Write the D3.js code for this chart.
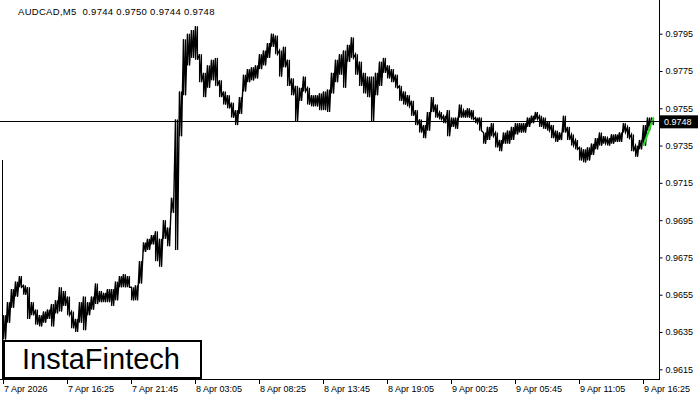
<!DOCTYPE html>
<html>
<head>
<meta charset="utf-8">
<style>
body { margin: 0; background: #fff; }
svg { display: block; font-family: "Liberation Sans", Arial, sans-serif; }
.axis text { font-size: 9px; fill: #000; }
</style>
</head>
<body>
<svg width="700" height="400"></svg>
<script src="https://d3js.org/d3.v7.min.js"></script>
<script>

// 20-minute buckets (4 M5 bars each), high and low
var hi = [
  0.9644,0.9651,0.9658,0.9662,0.9665,0.9660,0.9659,0.9651,0.9647,0.9644,
  0.9646,0.9647,0.9650,0.9652,0.9659,0.9657,0.9654,0.9646,0.9642,0.9651,
  0.9654,0.9651,0.9654,0.9661,0.9657,0.9656,0.9658,0.9658,0.9662,0.9665,
  0.9666,0.9665,0.9659,0.9660,0.9673,0.9683,0.9685,0.9687,0.9689,0.9685,
  0.9695,0.9691,0.9707,0.9749,0.9764,0.9792,0.9795,0.9797,0.9799,0.9784,
  0.9774,0.9778,0.9781,0.9782,0.9770,0.9764,0.9762,0.9758,0.9754,0.9761,
  0.9773,0.9776,0.9777,0.9778,0.9784,0.9786,0.9790,0.9795,0.9794,0.9786,
  0.9788,0.9781,0.9771,0.9767,0.9766,0.9772,0.9766,0.9762,0.9762,0.9763,
  0.9764,0.9765,0.9774,0.9781,0.9784,0.9786,0.9789,0.9793,0.9784,0.9780,
  0.9774,0.9772,0.9772,0.9774,0.9780,0.9782,0.9778,0.9776,0.9773,0.9767,
  0.9764,0.9762,0.9759,0.9754,0.9749,0.9746,0.9753,0.9761,0.9757,0.9753,
  0.9751,0.9754,0.9750,0.9750,0.9757,0.9754,0.9755,0.9754,0.9750,0.9750,
  0.9742,0.9745,0.9747,0.9742,0.9738,0.9742,0.9743,0.9745,0.9747,0.9747,
  0.9747,0.9750,0.9751,0.9753,0.9751,0.9750,0.9748,0.9746,0.9743,0.9742,
  0.9751,0.9745,0.9741,0.9738,0.9734,0.9733,0.9734,0.9736,0.9739,0.9742,
  0.9740,0.9739,0.9741,0.9741,0.9742,0.9747,0.9745,0.9741,0.9735,0.9738,
  0.9746,0.9750,0.9750
];
var lo = [
  0.9631,0.9640,0.9648,0.9654,0.9659,0.9655,0.9642,0.9644,0.9639,0.9638,
  0.9640,0.9642,0.9638,0.9645,0.9646,0.9649,0.9644,0.9637,0.9635,0.9640,
  0.9636,0.9644,0.9647,0.9650,0.9651,0.9651,0.9651,0.9649,0.9652,0.9659,
  0.9659,0.9659,0.9652,0.9652,0.9661,0.9678,0.9679,0.9682,0.9673,0.9670,
  0.9685,0.9681,0.9699,0.9679,0.9740,0.9762,0.9778,0.9782,0.9781,0.9769,
  0.9761,0.9766,0.9770,0.9767,0.9761,0.9757,0.9755,0.9750,0.9746,0.9752,
  0.9764,0.9769,0.9770,0.9771,0.9776,0.9778,0.9782,0.9788,0.9784,0.9772,
  0.9777,0.9767,0.9762,0.9748,0.9759,0.9764,0.9757,0.9756,0.9756,0.9754,
  0.9754,0.9753,0.9763,0.9769,0.9773,0.9766,0.9780,0.9782,0.9773,0.9767,
  0.9763,0.9761,0.9748,0.9762,0.9767,0.9774,0.9771,0.9769,0.9766,0.9759,
  0.9757,0.9756,0.9751,0.9746,0.9742,0.9739,0.9743,0.9753,0.9750,0.9749,
  0.9747,0.9740,0.9745,0.9744,0.9750,0.9750,0.9750,0.9749,0.9747,0.9743,
  0.9736,0.9738,0.9740,0.9734,0.9732,0.9736,0.9736,0.9738,0.9741,0.9742,
  0.9742,0.9745,0.9747,0.9749,0.9745,0.9744,0.9743,0.9739,0.9737,0.9738,
  0.9742,0.9738,0.9735,0.9733,0.9727,0.9726,0.9727,0.9730,0.9733,0.9735,
  0.9736,0.9735,0.9736,0.9737,0.9737,0.9742,0.9739,0.9732,0.9729,0.9733,
  0.9735,0.9743,0.9746
];

var symbol = "AUDCAD,M5";
var lastBar = [0.9744, 0.9750, 0.9744, 0.9748];   // open high low close
var bid = 0.9748;
var priceTicks = [0.9615,0.9635,0.9655,0.9675,0.9695,0.9715,0.9735,0.9755,0.9775,0.9795];
var timeTicks = ["7 Apr 2026","7 Apr 16:25","7 Apr 21:45","8 Apr 03:05","8 Apr 08:25",
  "8 Apr 13:45","8 Apr 19:05","9 Apr 00:25","9 Apr 05:45","9 Apr 11:05","9 Apr 16:25"];
var patternFrom = 160, patternTo = 162;   // green pattern, bucket indexes

var svg = d3.select("svg"),
    width = +svg.attr("width"),
    height = +svg.attr("height");

var left = 3, right = 659, bottom = 379;

// one pixel per M5 bar, 4 bars per bucket
var x = d3.scaleLinear().domain([0, 164]).range([left, left + 656]);
var y = d3.scaleLinear().domain([0.9615, 0.9795]).range([369.3, 33.7]);

// frame
svg.append("line").attr("x1", right + 0.5).attr("x2", right + 0.5).attr("y1", 0).attr("y2", bottom)
  .attr("stroke", "#000");
svg.append("line").attr("x1", 0).attr("x2", right + 1).attr("y1", bottom + 0.5).attr("y2", bottom + 0.5)
  .attr("stroke", "#000");
svg.append("line").attr("x1", 2.5).attr("x2", 2.5).attr("y1", 160).attr("y2", bottom)
  .attr("stroke", "#000");

// price axis
var yAxis = svg.append("g").attr("class", "axis")
  .attr("transform", "translate(" + (right + 0.5) + ",0)")
  .call(d3.axisRight(y).tickValues(priceTicks).tickSize(3).tickPadding(3).tickFormat(d3.format(".4f")));
yAxis.select(".domain").remove();

// time axis
var tAxis = svg.append("g").attr("class", "axis");
tAxis.selectAll("line").data(timeTicks).enter().append("line")
  .attr("x1", function(d, i) { return Math.round(x(i * 16)) + 0.5; })
  .attr("x2", function(d, i) { return Math.round(x(i * 16)) + 0.5; })
  .attr("y1", bottom).attr("y2", bottom + 5).attr("stroke", "#000");
tAxis.selectAll("text").data(timeTicks).enter().append("text")
  .attr("x", function(d, i) { return x(i * 16) + 1; })
  .attr("y", 392)
  .text(function(d) { return d; });

// logo (under the bars)
svg.append("rect").attr("x", 4).attr("y", 341).attr("width", 197).attr("height", 37)
  .attr("fill", "#fff").attr("stroke", "#000").attr("stroke-width", 2);
svg.append("text").attr("x", 22).attr("y", 369).attr("font-size", "29px").text("InstaFintech");

// bars: high-low strokes inside each bucket, joined by a zigzag
var bars = svg.append("g").attr("stroke", "#000");
[0.5, 2.5].forEach(function(dx) {
  bars.append("g").selectAll("line").data(hi).enter().append("line")
    .attr("x1", function(d, k) { return x(k) + dx; })
    .attr("x2", function(d, k) { return x(k) + dx; })
    .attr("y1", function(d) { return y(d); })
    .attr("y2", function(d, k) { return y(lo[k]); })
    .attr("stroke-width", 1.1);
});
var pts = [];
hi.forEach(function(h, k) {
  pts.push([x(k) + 0.5, y(h)]);
  pts.push([x(k) + 2.5, y(lo[k])]);
});
bars.append("path")
  .attr("d", d3.line()(pts))
  .attr("fill", "none").attr("stroke-width", 1.4);

// pattern
svg.append("line")
  .attr("x1", x(patternFrom) + 0.5).attr("y1", y(lo[patternFrom]))
  .attr("x2", x(patternTo) + 2.5).attr("y2", y(hi[patternTo]))
  .attr("stroke", "#22e022").attr("stroke-width", 2);

// bid line and label
svg.append("line").attr("x1", 0).attr("x2", right).attr("y1", Math.round(y(bid)) + 0.5).attr("y2", Math.round(y(bid)) + 0.5)
  .attr("stroke", "#000");
svg.append("rect").attr("x", right + 1).attr("y", y(bid) - 6).attr("width", 38).attr("height", 13).attr("fill", "#000");
svg.append("text").attr("x", right + 5).attr("y", y(bid) + 3.5).attr("fill", "#fff")
  .attr("font-size", "9px").text(d3.format(".4f")(bid));

// header
svg.append("text").attr("x", 18).attr("y", 15).attr("font-size", "9.5px")
  .attr("letter-spacing", "0.3px")
  .style("white-space", "pre")
  .text(symbol + "  " + lastBar.map(d3.format(".4f")).join(" "));

</script>
</body>
</html>
